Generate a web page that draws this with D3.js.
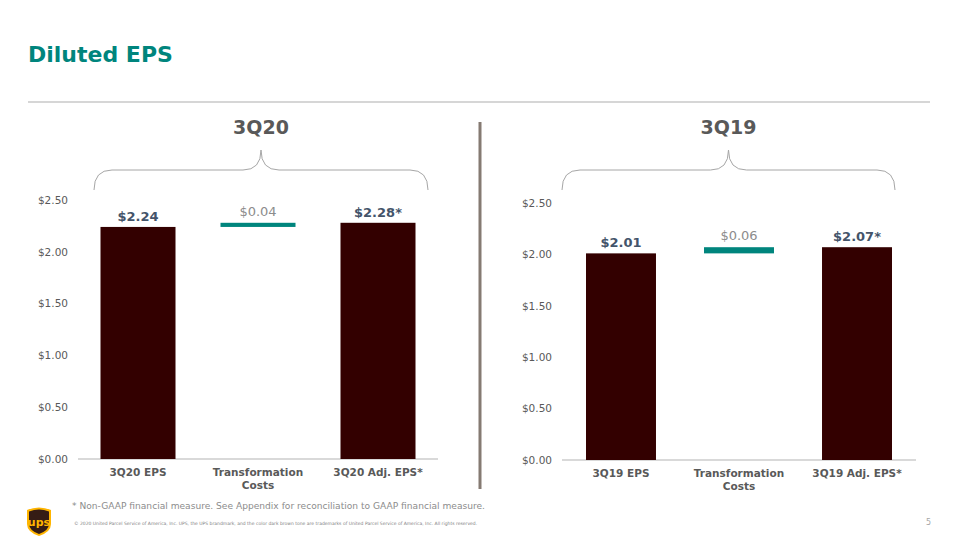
<!DOCTYPE html>
<html><head><meta charset="utf-8">
<script src="https://cdn.jsdelivr.net/npm/d3@7/dist/d3.min.js"></script>
<style>body{margin:0;background:#fff}svg{display:block}text{font-family:"DejaVu Sans",Verdana,sans-serif}</style>
</head><body><svg id="c" width="960" height="540"></svg>
<script>
const yTicks = [0, 0.5, 1, 1.5, 2, 2.5];
const leftTitle = "3Q20";
const leftCategories = ["3Q20 EPS", "Transformation|Costs", "3Q20 Adj. EPS*"];
const leftValues = [2.24, 0.04, 2.28];
const leftLabels = ["$2.24", "$0.04", "$2.28*"];
const rightTitle = "3Q19";
const rightCategories = ["3Q19 EPS", "Transformation|Costs", "3Q19 Adj. EPS*"];
const rightValues = [2.01, 0.06, 2.07];
const rightLabels = ["$2.01", "$0.06", "$2.07*"];

const svg = d3.select("#c");
const teal = "#00857d", brown = "#330000";

svg.append("text").attr("x",28).attr("y",62).attr("fill",teal)
  .attr("font-size",22).attr("font-weight","bold").text("Diluted EPS");
svg.append("line").attr("x1",28).attr("x2",930).attr("y1",102).attr("y2",102)
  .attr("stroke","#c8c8c8").attr("stroke-width",1.5);
svg.append("line").attr("x1",480).attr("x2",480).attr("y1",122).attr("y2",489)
  .attr("stroke","#857a72").attr("stroke-width",3);

function panel(o){
  const y = d3.scaleLinear().domain([0,2.5]).range([o.y0,o.y1]);
  const x = d3.scaleBand().domain(o.cats).range([o.x0,o.x1])
    .paddingInner(o.pi).paddingOuter(o.po);
  const g = svg.append("g");
  const ax = g.append("g").attr("transform",`translate(${o.labelX},0)`)
    .call(d3.axisLeft(y).tickValues(yTicks).tickSize(0).tickPadding(0)
      .tickFormat(d=>"$"+d3.format(".2f")(d)));
  ax.select(".domain").remove();
  ax.selectAll("text").attr("font-size",10.5).attr("fill","#595959")
    .attr("font-family","DejaVu Sans, Verdana, sans-serif");
  g.append("line").attr("x1",o.x0).attr("x2",o.x1).attr("y1",y(0)).attr("y2",y(0))
    .attr("stroke","#d9d9d9").attr("stroke-width",2);
  const v = o.vals;
  const bars = [
    {c:o.cats[0], lo:0, hi:v[0], fill:brown},
    {c:o.cats[1], lo:v[0], hi:v[0]+v[1], fill:teal},
    {c:o.cats[2], lo:0, hi:v[2], fill:brown}
  ];
  g.selectAll("rect.b").data(bars).join("rect")
    .attr("x",d=>x(d.c)).attr("width",x.bandwidth())
    .attr("y",d=>y(d.hi)).attr("height",d=>y(d.lo)-y(d.hi)).attr("fill",d=>d.fill);
  g.selectAll("text.v").data(bars).join("text")
    .attr("x",d=>x(d.c)+x.bandwidth()/2).attr("y",(d,i)=>y(d.hi)-(i===1?7:6))
    .attr("text-anchor","middle").attr("font-size",13)
    .attr("font-weight",(d,i)=>i===1?"normal":"bold")
    .attr("fill",(d,i)=>i===1?"#8c8c8c":"#44546a")
    .text((d,i)=>o.labels[i]);
  o.cats.forEach(c=>{
    const t = g.append("text").attr("x",x(c)+x.bandwidth()/2).attr("y",y(0)+17)
      .attr("text-anchor","middle").attr("font-size",10.5).attr("font-weight","bold").attr("fill","#595959");
    c.split("|").forEach((s,i)=>t.append("tspan").attr("x",x(c)+x.bandwidth()/2).attr("dy",i?12.5:0).text(s));
  });
  const bx0=o.b0, bx1=o.b1, cx=(bx0+bx1)/2, yb=190, ym=170, yt=150, r=18;
  g.append("path").attr("fill","none").attr("stroke","#a6a6a6").attr("stroke-width",1)
    .attr("d",`M${bx0},${yb} Q${bx0},${ym} ${bx0+r},${ym} L${cx-r},${ym} Q${cx},${ym} ${cx},${yt} Q${cx},${ym} ${cx+r},${ym} L${bx1-r},${ym} Q${bx1},${ym} ${bx1},${yb}`);
  g.append("text").attr("x",cx).attr("y",134).attr("text-anchor","middle")
    .attr("font-size",19).attr("font-weight","bold").attr("fill","#595959").text(o.title);
}
panel({title:leftTitle,cats:leftCategories,vals:leftValues,labels:leftLabels,
  y0:459,y1:200,x0:78,x1:438,pi:0.375,po:0.1875,labelX:68,b0:94,b1:428});
panel({title:rightTitle,cats:rightCategories,vals:rightValues,labels:rightLabels,
  y0:460,y1:203,x0:562,x1:916,pi:0.407,po:0.2034,labelX:552,b0:562,b1:895});

svg.append("text").attr("x",72).attr("y",509).attr("font-size",9.1).attr("fill","#8c8c8c")
  .text("* Non-GAAP financial measure. See Appendix for reconciliation to GAAP financial measure.");
svg.append("text").attr("x",74).attr("y",525).attr("font-size",4.5).attr("fill","#7f7f7f")
  .text("© 2020 United Parcel Service of America, Inc. UPS, the UPS brandmark, and the color dark brown tone are trademarks of United Parcel Service of America, Inc. All rights reserved.");
svg.append("text").attr("x",931).attr("y",525).attr("text-anchor","end").attr("font-size",8).attr("fill","#a6a6a6").text("5");
const lg = svg.append("g").attr("transform","translate(27,507)");
lg.append("path").attr("d","M0,3 Q12,-2 24,3 L24,17 Q24,25 12,29 Q0,25 0,17 Z").attr("fill","#ffb500");
lg.append("path").attr("d","M2,4.5 Q12,0.5 22,4.5 L22,16.5 Q22,23.5 12,27 Q2,23.5 2,16.5 Z").attr("fill","#351c15");
lg.append("text").attr("x",12).attr("y",19).attr("text-anchor","middle").attr("font-size",11)
  .attr("font-weight","bold").attr("fill","#ffb500").text("ups");
</script></body></html>
